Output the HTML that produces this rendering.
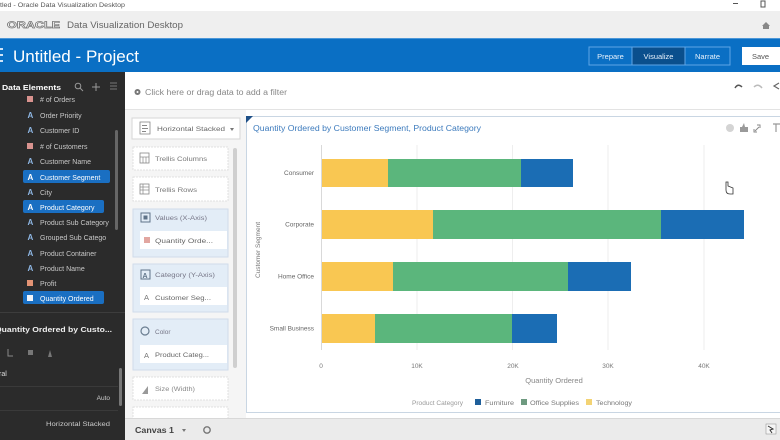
<!DOCTYPE html>
<html><head><meta charset="utf-8">
<style>
html,body{margin:0;padding:0;background:#fff;}
svg{display:block;}
text{font-family:"Liberation Sans",sans-serif;}
</style></head>
<body>
<svg width="780" height="440" viewBox="0 0 780 440" xmlns="http://www.w3.org/2000/svg">
<rect width="780" height="440" fill="#ffffff"/>
<!-- window title bar -->
<text x="0" y="7" font-size="6.5" fill="#555" textLength="125" lengthAdjust="spacingAndGlyphs">tled - Oracle Data Visualization Desktop</text>
<rect x="733" y="3" width="5" height="1" fill="#555"/>
<rect x="761" y="1" width="4" height="6" fill="none" stroke="#555" stroke-width="1"/>
<!-- oracle header -->
<rect x="0" y="11" width="780" height="27" fill="#efefef"/>
<text x="7" y="28" font-size="9.5" fill="#fff" stroke="#777" stroke-width="0.7" font-weight="bold" textLength="53" lengthAdjust="spacingAndGlyphs">ORACLE</text>
<text x="67" y="28" font-size="9" fill="#666" textLength="116" lengthAdjust="spacingAndGlyphs">Data Visualization Desktop</text>
<path d="M762 26 L766 22 L770 26 L769 26 L769 29 L763 29 L763 26 Z" fill="#888"/>
<!-- blue bar -->
<rect x="0" y="38" width="780" height="34" fill="#0a6fc4"/>
<rect x="0" y="38" width="780" height="1" fill="#4c97d8"/>
<rect x="0" y="48" width="3" height="2" fill="#cfe3f7"/>
<rect x="0" y="54" width="3" height="2" fill="#cfe3f7"/>
<rect x="0" y="60" width="3" height="2" fill="#cfe3f7"/>
<text x="13" y="62" font-size="17" fill="#fff" textLength="126" lengthAdjust="spacingAndGlyphs">Untitled - Project</text>
<rect x="589" y="47" width="141" height="18" fill="none" stroke="#5ea6e6" stroke-width="1"/>
<rect x="632" y="47.5" width="53" height="17" fill="#0a4f8d"/>
<line x1="632" y1="47" x2="632" y2="65" stroke="#5ea6e6"/>
<line x1="685" y1="47" x2="685" y2="65" stroke="#5ea6e6"/>
<text x="610.5" y="59" font-size="7.5" fill="#e8f2fc" text-anchor="middle">Prepare</text>
<text x="658.5" y="59" font-size="7.5" fill="#e8f2fc" text-anchor="middle">Visualize</text>
<text x="707.5" y="59" font-size="7.5" fill="#e8f2fc" text-anchor="middle">Narrate</text>
<rect x="742" y="47" width="40" height="18" fill="#fff"/>
<text x="752" y="59" font-size="7.5" fill="#555">Save</text>
<!-- filter bar -->
<rect x="125" y="72" width="655" height="38" fill="#fff"/>
<circle cx="137.5" cy="92" r="3" fill="#777"/>
<circle cx="137.5" cy="92" r="1" fill="#fff"/>
<text x="145" y="95" font-size="8" fill="#888" textLength="142" lengthAdjust="spacingAndGlyphs">Click here or drag data to add a filter</text>
<path d="M735 88 Q738 83 742 87" fill="none" stroke="#555" stroke-width="1.5"/>
<path d="M754 87 Q758 83 762 88" fill="none" stroke="#bbb" stroke-width="1.5"/>
<path d="M779 83 L774 86 L779 89" fill="none" stroke="#666" stroke-width="1.2"/>
<rect x="125" y="109" width="655" height="1" fill="#e3e3e3"/>
<!-- middle column -->
<rect x="125" y="110" width="121" height="308" fill="#f5f5f5"/>
<rect x="132" y="118" width="108" height="21" fill="#fff" stroke="#d6d6d6"/>
<rect x="140" y="122" width="10" height="12" fill="none" stroke="#888" stroke-width="0.8"/>
<rect x="142" y="125" width="5" height="1" fill="#888"/><rect x="142" y="128" width="6" height="1" fill="#888"/><rect x="142" y="131" width="4" height="1" fill="#888"/>
<text x="157" y="131" font-size="6.5" fill="#666" textLength="68" lengthAdjust="spacingAndGlyphs">Horizontal Stacked</text>
<path d="M230 128 L234 128 L232 131 Z" fill="#777"/>
<rect x="133" y="147" width="95" height="23" fill="#fff" stroke="#e0e0e0" stroke-dasharray="2,1"/>
<rect x="140" y="153" width="9" height="10" fill="none" stroke="#888" stroke-width="0.8"/>
<line x1="140" y1="157" x2="149" y2="157" stroke="#888" stroke-width="0.7"/><line x1="143" y1="157" x2="143" y2="163" stroke="#888" stroke-width="0.7"/><line x1="146" y1="157" x2="146" y2="163" stroke="#888" stroke-width="0.7"/>
<text x="155" y="161" font-size="6.5" fill="#777" textLength="52" lengthAdjust="spacingAndGlyphs">Trellis Columns</text>
<rect x="133" y="177" width="95" height="24" fill="#fff" stroke="#e0e0e0" stroke-dasharray="2,1"/>
<rect x="140" y="184" width="9" height="10" fill="none" stroke="#888" stroke-width="0.8"/>
<line x1="140" y1="187" x2="149" y2="187" stroke="#888" stroke-width="0.7"/><line x1="140" y1="190" x2="149" y2="190" stroke="#888" stroke-width="0.7"/><line x1="143" y1="184" x2="143" y2="194" stroke="#888" stroke-width="0.7"/>
<text x="155" y="192" font-size="6.5" fill="#777" textLength="42" lengthAdjust="spacingAndGlyphs">Trellis Rows</text>
<!-- values card -->
<rect x="133" y="209" width="95" height="48" fill="#e3edf7" stroke="#d0dcea"/>
<rect x="141" y="213" width="9" height="9" fill="none" stroke="#5f7388" stroke-width="1"/>
<rect x="143.5" y="215.5" width="4" height="4" fill="#5f7388"/>
<text x="155" y="220" font-size="6.5" fill="#778" textLength="52" lengthAdjust="spacingAndGlyphs">Values (X-Axis)</text>
<rect x="140" y="231" width="87" height="18" fill="#fff"/>
<rect x="144" y="237" width="6" height="6" fill="#e2a6a0"/>
<text x="155" y="243" font-size="6.5" fill="#666" textLength="58" lengthAdjust="spacingAndGlyphs">Quantity Orde...</text>
<!-- category card -->
<rect x="133" y="264" width="95" height="48" fill="#e3edf7" stroke="#d0dcea"/>
<rect x="141" y="270" width="9" height="9" fill="none" stroke="#5f7388" stroke-width="1"/>
<text x="142.5" y="278" font-size="7" fill="#5f7388" font-weight="bold">A</text>
<text x="155" y="277" font-size="6.5" fill="#778" textLength="60" lengthAdjust="spacingAndGlyphs">Category (Y-Axis)</text>
<rect x="140" y="287" width="87" height="18" fill="#fff"/>
<text x="144" y="300" font-size="7.5" fill="#777">A</text>
<text x="155" y="300" font-size="6.5" fill="#666" textLength="56" lengthAdjust="spacingAndGlyphs">Customer Seg...</text>
<!-- color card -->
<rect x="133" y="319" width="95" height="51" fill="#e3edf7" stroke="#d0dcea"/>
<circle cx="145" cy="331" r="4" fill="none" stroke="#6a7d90" stroke-width="1.2"/>
<text x="155" y="334" font-size="6.5" fill="#778">Color</text>
<rect x="140" y="345" width="87" height="18" fill="#fff"/>
<text x="144" y="358" font-size="7.5" fill="#777">A</text>
<text x="155" y="357" font-size="6.5" fill="#666" textLength="54" lengthAdjust="spacingAndGlyphs">Product Categ...</text>
<!-- size card -->
<rect x="133" y="377" width="95" height="23" fill="#fff" stroke="#e0e0e0" stroke-dasharray="2,1"/>
<path d="M142 394 L148 386 L148 394 Z" fill="#999"/>
<text x="155" y="391" font-size="6.5" fill="#888" textLength="40" lengthAdjust="spacingAndGlyphs">Size (Width)</text>
<rect x="133" y="407" width="95" height="12" fill="#fff" stroke="#e0e0e0" stroke-dasharray="2,1"/>
<rect x="233" y="148" width="4" height="220" fill="#cfcfcf" rx="2"/>
<!-- chart panel -->
<rect x="246.5" y="116.5" width="540" height="296" fill="#fff" stroke="#c9d6e3"/>
<path d="M246 116 L253 116 L246 123 Z" fill="#1d4f87"/>
<text x="253" y="131" font-size="8" fill="#3d7bbd" textLength="228" lengthAdjust="spacingAndGlyphs">Quantity Ordered by Customer Segment, Product Category</text>
<circle cx="730" cy="128" r="4" fill="#d4d4d4"/>
<path d="M740 132 L740 127 L742 127 L744 123 L745 127 L748 127 L748 132 Z" fill="#9a9a9a"/>
<path d="M755 131 L759 127 M757 125 L760 125 L760 128 M754 129 L754 132 L757 132" fill="none" stroke="#8a8a8a" stroke-width="1"/>
<path d="M773 124 L780 124 M776 124 L776 132" stroke="#999" stroke-width="1.2"/>
<!-- gridlines -->
<g stroke="#eeeeee" stroke-width="1">
<line x1="417" y1="145" x2="417" y2="350"/>
<line x1="512.5" y1="145" x2="512.5" y2="350"/>
<line x1="608" y1="145" x2="608" y2="350"/>
<line x1="704" y1="145" x2="704" y2="350"/>
</g>
<line x1="321.5" y1="145" x2="321.5" y2="350" stroke="#d9d9d9"/>
<!-- bars -->
<g>
<rect x="322" y="159" width="66" height="28" fill="#f9c752"/>
<rect x="388" y="159" width="133" height="28" fill="#5bb67c"/>
<rect x="521" y="159" width="52" height="28" fill="#1b6db4"/>
<rect x="322" y="210" width="111" height="29" fill="#f9c752"/>
<rect x="433" y="210" width="228" height="29" fill="#5bb67c"/>
<rect x="661" y="210" width="83" height="29" fill="#1b6db4"/>
<rect x="322" y="262" width="71" height="29" fill="#f9c752"/>
<rect x="393" y="262" width="175" height="29" fill="#5bb67c"/>
<rect x="568" y="262" width="63" height="29" fill="#1b6db4"/>
<rect x="322" y="314" width="53" height="29" fill="#f9c752"/>
<rect x="375" y="314" width="137" height="29" fill="#5bb67c"/>
<rect x="512" y="314" width="45" height="29" fill="#1b6db4"/>
</g>
<g font-size="6.5" fill="#666" text-anchor="end">
<text x="314" y="175">Consumer</text>
<text x="314" y="226.5">Corporate</text>
<text x="314" y="278.5">Home Office</text>
<text x="314" y="330.5">Small Business</text>
</g>
<text transform="translate(260,250) rotate(-90)" font-size="6.5" fill="#777" text-anchor="middle">Customer Segment</text>
<g font-size="6.5" fill="#777" text-anchor="middle">
<text x="321" y="368">0</text>
<text x="417" y="368">10K</text>
<text x="513" y="368">20K</text>
<text x="608" y="368">30K</text>
<text x="704" y="368">40K</text>
</g>
<text x="554" y="383" font-size="7.5" fill="#888" text-anchor="middle">Quantity Ordered</text>
<text x="412" y="405" font-size="6" fill="#999" textLength="51" lengthAdjust="spacingAndGlyphs">Product Category</text>
<rect x="475" y="399" width="6" height="6" fill="#1f5f9a"/>
<text x="485" y="405" font-size="6" fill="#777" textLength="29" lengthAdjust="spacingAndGlyphs">Furniture</text>
<rect x="521" y="399" width="6" height="6" fill="#6e9a80"/>
<text x="530" y="405" font-size="6" fill="#777" textLength="49" lengthAdjust="spacingAndGlyphs">Office Supplies</text>
<rect x="586" y="399" width="6" height="6" fill="#f3d374"/>
<text x="596" y="405" font-size="6" fill="#777" textLength="36" lengthAdjust="spacingAndGlyphs">Technology</text>
<!-- cursor -->
<path d="M726 182 L726 190 Q726 194 730 194 L733 194 L733 188 L728 186 L728 182 Z" fill="#fff" stroke="#333" stroke-width="0.8"/>
<!-- bottom bar -->
<rect x="125" y="418" width="655" height="22" fill="#ebebeb"/>
<rect x="125" y="418" width="655" height="1" fill="#d8d8d8"/>
<text x="135" y="433" font-size="8" fill="#444" font-weight="bold" textLength="39" lengthAdjust="spacingAndGlyphs">Canvas 1</text>
<path d="M182 429 L186 429 L184 432 Z" fill="#777"/>
<circle cx="207" cy="430" r="3.2" fill="none" stroke="#777" stroke-width="1.4"/>
<rect x="766" y="424" width="10" height="10" fill="#f5f5f5" stroke="#999" stroke-width="0.6"/>
<path d="M768 426 L773 429 L770 430 L772 433" fill="none" stroke="#333" stroke-width="1"/>
<!-- left panel -->
<rect x="0" y="72" width="125" height="368" fill="#2b2b2b"/>
<text x="2" y="90" font-size="7.5" fill="#fff" font-weight="bold" textLength="59" lengthAdjust="spacingAndGlyphs">Data Elements</text>
<circle cx="78" cy="86" r="2.8" fill="none" stroke="#999" stroke-width="1"/>
<line x1="80" y1="88" x2="83" y2="91" stroke="#999" stroke-width="1"/>
<path d="M96 83 L96 91 M92 87 L100 87" stroke="#999" stroke-width="1"/>
<path d="M110 83 L117 83 M110 86 L117 86 M110 89 L117 89" stroke="#777" stroke-width="1"/>
<!-- highlights -->
<rect x="23" y="170" width="87" height="13" rx="2" fill="#1a6fc2"/>
<rect x="23" y="200" width="81" height="13" rx="2" fill="#1a6fc2"/>
<rect x="23" y="291" width="81" height="13" rx="2" fill="#1a6fc2"/>
<g font-size="7" fill="#c8c8c8">
<rect x="27" y="96" width="6" height="6" fill="#d9938f"/><text x="40" y="102">&#35; of Orders</text>
<text x="27.5" y="118" font-size="8" font-weight="bold" fill="#8fb8e6">A</text><text x="40" y="118">Order Priority</text>
<text x="27.5" y="133" font-size="8" font-weight="bold" fill="#8fb8e6">A</text><text x="40" y="133">Customer ID</text>
<rect x="27" y="143" width="6" height="6" fill="#d9938f"/><text x="40" y="149">&#35; of Customers</text>
<text x="27.5" y="164" font-size="8" font-weight="bold" fill="#8fb8e6">A</text><text x="40" y="164">Customer Name</text>
<text x="27.5" y="180" font-size="8" font-weight="bold" fill="#fff">A</text><text x="40" y="180" fill="#fff">Customer Segment</text>
<text x="27.5" y="195" font-size="8" font-weight="bold" fill="#8fb8e6">A</text><text x="40" y="195">City</text>
<text x="27.5" y="210" font-size="8" font-weight="bold" fill="#fff">A</text><text x="40" y="210" fill="#fff">Product Category</text>
<text x="27.5" y="225" font-size="8" font-weight="bold" fill="#8fb8e6">A</text><text x="40" y="225">Product Sub Category</text>
<text x="27.5" y="240" font-size="8" font-weight="bold" fill="#8fb8e6">A</text><text x="40" y="240">Grouped Sub Catego</text>
<text x="27.5" y="256" font-size="8" font-weight="bold" fill="#8fb8e6">A</text><text x="40" y="256">Product Container</text>
<text x="27.5" y="271" font-size="8" font-weight="bold" fill="#8fb8e6">A</text><text x="40" y="271">Product Name</text>
<rect x="27" y="280" width="6" height="6" fill="#e39374"/><text x="40" y="286">Profit</text>
<rect x="27" y="295" width="6" height="6" fill="#f0f4fa"/><text x="40" y="301" fill="#fff">Quantity Ordered</text>
</g>
<rect x="115" y="130" width="3" height="100" rx="1.5" fill="#666"/>
<rect x="0" y="312" width="125" height="1" fill="#3d3d3d"/>
<text x="-5" y="332" font-size="7.5" fill="#eee" font-weight="bold" textLength="117" lengthAdjust="spacingAndGlyphs">Quantity Ordered by Custo...</text>
<path d="M8 349 L8 356 L13 356" fill="none" stroke="#888" stroke-width="1"/>
<rect x="28" y="350" width="5" height="5" fill="#777"/>
<path d="M48 357 L50 350 L52 357 Z" fill="#777"/>
<text x="-1" y="376" font-size="7" fill="#ddd">ral</text>
<rect x="0" y="386" width="118" height="1" fill="#3a3a3a"/>
<text x="110" y="400" font-size="6.5" fill="#ccc" text-anchor="end">Auto</text>
<rect x="0" y="410" width="118" height="1" fill="#3a3a3a"/>
<text x="110" y="426" font-size="6.5" fill="#ccc" text-anchor="end" textLength="64" lengthAdjust="spacingAndGlyphs">Horizontal Stacked</text>
<rect x="119" y="368" width="3" height="38" rx="1.5" fill="#777"/>
</svg>
</body></html>
